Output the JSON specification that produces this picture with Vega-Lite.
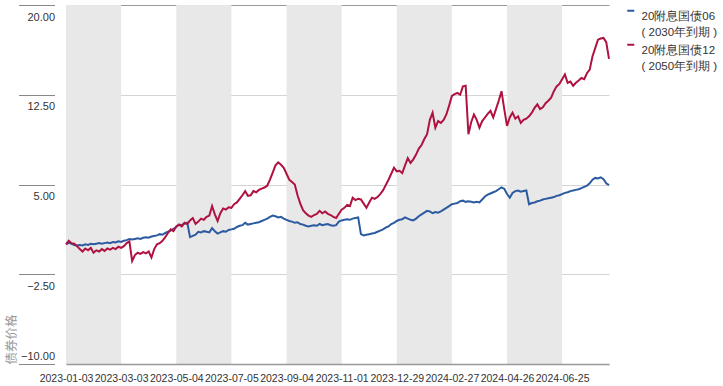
{
"$schema": "https://vega.github.io/schema/vega-lite/v6.json",
"width": 543,
"height": 359,
"padding": {"left": 5, "top": 4, "right": 0, "bottom": 0},
"autosize": {"type": "pad"},
"config": {"view": {"stroke": null}, "font": "Liberation Sans", "style": {"guide-label": {"lineHeight": 16}}},
"layer": [
{
"data": {"values": [
{"start":"2023-01-03","end":"2023-03-03"},
{"start":"2023-05-04","end":"2023-07-05"},
{"start":"2023-09-04","end":"2023-11-01"},
{"start":"2023-12-29","end":"2024-02-27"},
{"start":"2024-04-26","end":"2024-06-25"}
]},
"mark": {"type": "rect", "color": "#e8e8e8"},
"encoding": {
"x": {"field": "start", "type": "ordinal", "scale": {"type": "point", "padding": 0},
"axis": {"title": null, "values": ["2023-01-03","2023-03-03","2023-05-04","2023-07-05","2023-09-04","2023-11-01","2023-12-29","2024-02-27","2024-04-26","2024-06-25"],
"labelAngle": 0, "ticks": false, "grid": false, "domainColor": "#999999", "domainWidth": 1.5, "labelFont": "Liberation Sans", "labelFontSize": 10.5, "labelColor": "#333333", "labelPadding": 9, "labelOverlap": false, "labelBaseline": "top"}},
"x2": {"field": "end"}
}
},
{
"data": {"values": [
{"date":"2023-01-03","20附息国债06":0.00,"20附息国债12":0.00},
{"date":"2023-01-05","20附息国债06":0.15,"20附息国债12":0.30},
{"date":"2023-01-09","20附息国债06":0.05,"20附息国债12":0.10},
{"date":"2023-01-11","20附息国债06":-0.05,"20附息国债12":0.05},
{"date":"2023-01-13","20附息国债06":-0.10,"20附息国债12":-0.15},
{"date":"2023-01-17","20附息国债06":-0.05,"20附息国债12":-0.40},
{"date":"2023-01-19","20附息国债06":-0.10,"20附息国债12":-0.60},
{"date":"2023-01-28","20附息国债06":0.00,"20附息国债12":-0.35},
{"date":"2023-01-30","20附息国债06":-0.05,"20附息国债12":-0.50},
{"date":"2023-02-01","20附息国债06":0.05,"20附息国债12":-0.30},
{"date":"2023-02-03","20附息国债06":0.00,"20附息国债12":-0.70},
{"date":"2023-02-07","20附息国债06":0.05,"20附息国债12":-0.50},
{"date":"2023-02-09","20附息国债06":0.10,"20附息国债12":-0.60},
{"date":"2023-02-13","20附息国债06":0.05,"20附息国债12":-0.40},
{"date":"2023-02-15","20附息国债06":0.10,"20附息国债12":-0.55},
{"date":"2023-02-17","20附息国债06":0.15,"20附息国债12":-0.35},
{"date":"2023-02-21","20附息国债06":0.10,"20附息国债12":-0.45},
{"date":"2023-02-23","20附息国债06":0.20,"20附息国债12":-0.30},
{"date":"2023-02-27","20附息国债06":0.15,"20附息国债12":-0.40},
{"date":"2023-03-01","20附息国债06":0.25,"20附息国债12":-0.20},
{"date":"2023-03-03","20附息国债06":0.20,"20附息国债12":-0.30},
{"date":"2023-03-07","20附息国债06":0.30,"20附息国债12":-0.15},
{"date":"2023-03-09","20附息国债06":0.35,"20附息国债12":0.10},
{"date":"2023-03-13","20附息国债06":0.45,"20附息国债12":0.25},
{"date":"2023-03-15","20附息国债06":0.40,"20附息国债12":-1.40},
{"date":"2023-03-17","20附息国债06":0.45,"20附息国债12":-0.90},
{"date":"2023-03-21","20附息国债06":0.50,"20附息国债12":-0.70},
{"date":"2023-03-23","20附息国债06":0.45,"20附息国债12":-0.80},
{"date":"2023-03-27","20附息国债06":0.55,"20附息国债12":-0.65},
{"date":"2023-03-29","20附息国债06":0.60,"20附息国债12":-0.75},
{"date":"2023-03-31","20附息国债06":0.55,"20附息国债12":-0.60},
{"date":"2023-04-04","20附息国债06":0.65,"20附息国债12":-1.10},
{"date":"2023-04-07","20附息国债06":0.70,"20附息国债12":-0.40},
{"date":"2023-04-11","20附息国债06":0.75,"20附息国债12":0.00},
{"date":"2023-04-13","20附息国债06":0.85,"20附息国债12":0.10},
{"date":"2023-04-17","20附息国债06":0.80,"20附息国债12":0.30},
{"date":"2023-04-19","20附息国债06":0.95,"20附息国债12":0.60},
{"date":"2023-04-21","20附息国债06":1.05,"20附息国债12":0.95},
{"date":"2023-04-24","20附息国债06":1.15,"20附息国债12":1.25},
{"date":"2023-04-26","20附息国债06":1.30,"20附息国债12":1.10},
{"date":"2023-05-04","20附息国债06":1.45,"20附息国债12":1.50},
{"date":"2023-05-06","20附息国债06":1.65,"20附息国债12":1.65},
{"date":"2023-05-09","20附息国债06":1.60,"20附息国债12":1.50},
{"date":"2023-05-11","20附息国债06":1.75,"20附息国债12":1.80},
{"date":"2023-05-15","20附息国债06":1.80,"20附息国债12":1.70},
{"date":"2023-05-17","20附息国债06":0.60,"20附息国债12":2.00},
{"date":"2023-05-19","20附息国债06":0.70,"20附息国债12":2.20},
{"date":"2023-05-23","20附息国债06":0.80,"20附息国债12":1.70},
{"date":"2023-05-25","20附息国债06":1.05,"20附息国债12":1.90},
{"date":"2023-05-29","20附息国债06":1.00,"20附息国债12":2.15},
{"date":"2023-05-31","20附息国债06":1.10,"20附息国债12":2.05},
{"date":"2023-06-06","20附息国债06":1.05,"20附息国债12":2.30},
{"date":"2023-06-08","20附息国债06":1.00,"20附息国债12":2.40},
{"date":"2023-06-12","20附息国债06":1.35,"20附息国债12":3.20},
{"date":"2023-06-14","20附息国债06":1.10,"20附息国债12":2.50},
{"date":"2023-06-16","20附息国债06":0.90,"20附息国债12":1.95},
{"date":"2023-06-20","20附息国债06":1.00,"20附息国债12":2.60},
{"date":"2023-06-26","20附息国债06":1.10,"20附息国债12":3.00},
{"date":"2023-06-28","20附息国债06":1.05,"20附息国债12":2.90},
{"date":"2023-07-03","20附息国债06":1.20,"20附息国债12":3.10},
{"date":"2023-07-05","20附息国债06":1.25,"20附息国债12":3.05},
{"date":"2023-07-07","20附息国债06":1.30,"20附息国债12":3.35},
{"date":"2023-07-11","20附息国债06":1.45,"20附息国债12":3.50},
{"date":"2023-07-13","20附息国债06":1.55,"20附息国债12":3.80},
{"date":"2023-07-17","20附息国债06":1.60,"20附息国债12":4.10},
{"date":"2023-07-19","20附息国债06":1.80,"20附息国债12":4.45},
{"date":"2023-07-25","20附息国债06":1.65,"20附息国债12":4.05},
{"date":"2023-07-27","20附息国债06":1.70,"20附息国债12":4.10},
{"date":"2023-07-31","20附息国债06":1.75,"20附息国债12":4.45},
{"date":"2023-08-02","20附息国债06":1.80,"20附息国债12":4.35},
{"date":"2023-08-08","20附息国债06":1.85,"20附息国债12":4.55},
{"date":"2023-08-10","20附息国债06":1.95,"20附息国债12":4.65},
{"date":"2023-08-14","20附息国债06":2.05,"20附息国债12":4.75},
{"date":"2023-08-16","20附息国债06":2.15,"20附息国债12":4.90},
{"date":"2023-08-18","20附息国债06":2.30,"20附息国债12":5.40},
{"date":"2023-08-22","20附息国债06":2.40,"20附息国债12":6.00},
{"date":"2023-08-24","20附息国债06":2.35,"20附息国债12":6.60},
{"date":"2023-08-28","20附息国债06":2.25,"20附息国债12":6.85},
{"date":"2023-08-30","20附息国债06":2.30,"20附息国债12":6.65},
{"date":"2023-09-01","20附息国债06":2.15,"20附息国债12":6.40},
{"date":"2023-09-04","20附息国债06":2.05,"20附息国债12":5.90},
{"date":"2023-09-06","20附息国债06":1.95,"20附息国债12":5.40},
{"date":"2023-09-08","20附息国债06":1.90,"20附息国债12":5.20},
{"date":"2023-09-12","20附息国债06":1.80,"20附息国债12":5.00},
{"date":"2023-09-14","20附息国债06":1.85,"20附息国债12":4.10},
{"date":"2023-09-18","20附息国债06":1.70,"20附息国债12":3.40},
{"date":"2023-09-20","20附息国债06":1.65,"20附息国债12":2.85},
{"date":"2023-09-22","20附息国债06":1.55,"20附息国债12":2.60},
{"date":"2023-09-26","20附息国债06":1.50,"20附息国债12":2.40},
{"date":"2023-09-28","20附息国债06":1.55,"20附息国债12":2.30},
{"date":"2023-10-07","20附息国债06":1.60,"20附息国债12":2.45},
{"date":"2023-10-09","20附息国债06":1.55,"20附息国债12":2.55},
{"date":"2023-10-11","20附息国债06":1.70,"20附息国债12":2.80},
{"date":"2023-10-13","20附息国债06":1.60,"20附息国债12":2.60},
{"date":"2023-10-17","20附息国债06":1.65,"20附息国债12":2.75},
{"date":"2023-10-19","20附息国债06":1.70,"20附息国债12":2.55},
{"date":"2023-10-23","20附息国债06":1.60,"20附息国债12":2.45},
{"date":"2023-10-25","20附息国债06":1.55,"20附息国债12":2.30},
{"date":"2023-10-27","20附息国债06":1.60,"20附息国债12":2.20},
{"date":"2023-10-31","20附息国债06":1.90,"20附息国债12":2.55},
{"date":"2023-11-01","20附息国债06":2.00,"20附息国债12":2.90},
{"date":"2023-11-03","20附息国债06":2.05,"20附息国债12":3.05},
{"date":"2023-11-07","20附息国债06":2.10,"20附息国债12":3.30},
{"date":"2023-11-09","20附息国债06":2.05,"20附息国债12":3.20},
{"date":"2023-11-13","20附息国债06":2.15,"20附息国债12":3.90},
{"date":"2023-11-15","20附息国债06":2.20,"20附息国债12":3.70},
{"date":"2023-11-17","20附息国债06":2.25,"20附息国债12":3.80},
{"date":"2023-11-21","20附息国债06":0.85,"20附息国债12":3.75},
{"date":"2023-11-23","20附息国债06":0.75,"20附息国债12":3.40},
{"date":"2023-11-27","20附息国债06":0.80,"20附息国债12":3.05},
{"date":"2023-11-29","20附息国债06":0.85,"20附息国债12":3.50},
{"date":"2023-12-05","20附息国债06":0.90,"20附息国债12":3.90},
{"date":"2023-12-07","20附息国债06":0.95,"20附息国债12":3.80},
{"date":"2023-12-11","20附息国债06":1.05,"20附息国债12":3.95},
{"date":"2023-12-13","20附息国债06":1.15,"20附息国债12":4.20},
{"date":"2023-12-15","20附息国债06":1.25,"20附息国债12":4.50},
{"date":"2023-12-19","20附息国债06":1.40,"20附息国债12":4.95},
{"date":"2023-12-21","20附息国债06":1.50,"20附息国债12":5.40},
{"date":"2023-12-25","20附息国债06":1.70,"20附息国债12":5.90},
{"date":"2023-12-27","20附息国债06":1.80,"20附息国债12":6.40},
{"date":"2023-12-29","20附息国债06":1.95,"20附息国债12":6.10},
{"date":"2024-01-03","20附息国债06":2.05,"20附息国债12":6.15},
{"date":"2024-01-05","20附息国债06":2.10,"20附息国债12":5.95},
{"date":"2024-01-09","20附息国债06":2.25,"20附息国债12":6.60},
{"date":"2024-01-11","20附息国债06":2.15,"20附息国债12":7.20},
{"date":"2024-01-15","20附息国债06":2.05,"20附息国债12":6.80},
{"date":"2024-01-17","20附息国债06":2.00,"20附息国债12":7.10},
{"date":"2024-01-19","20附息国债06":2.15,"20附息国债12":7.50},
{"date":"2024-01-23","20附息国债06":2.35,"20附息国债12":8.00},
{"date":"2024-01-25","20附息国债06":2.50,"20附息国债12":8.30},
{"date":"2024-01-29","20附息国债06":2.65,"20附息国债12":8.80},
{"date":"2024-01-31","20附息国债06":2.80,"20附息国债12":9.20},
{"date":"2024-02-02","20附息国债06":2.75,"20附息国债12":10.40},
{"date":"2024-02-04","20附息国债06":2.60,"20附息国债12":11.00},
{"date":"2024-02-06","20附息国债06":2.70,"20附息国债12":9.75},
{"date":"2024-02-08","20附息国债06":2.65,"20附息国债12":10.30},
{"date":"2024-02-19","20附息国债06":2.75,"20附息国债12":10.15},
{"date":"2024-02-21","20附息国债06":2.90,"20附息国债12":10.40},
{"date":"2024-02-23","20附息国债06":3.05,"20附息国债12":10.85},
{"date":"2024-02-25","20附息国债06":3.20,"20附息国债12":11.60},
{"date":"2024-02-27","20附息国债06":3.35,"20附息国债12":12.40},
{"date":"2024-02-29","20附息国债06":3.40,"20附息国债12":12.55},
{"date":"2024-03-06","20附息国债06":3.45,"20附息国债12":12.65},
{"date":"2024-03-08","20附息国债06":3.60,"20附息国债12":12.50},
{"date":"2024-03-12","20附息国债06":3.65,"20附息国债12":13.20},
{"date":"2024-03-14","20附息国债06":3.55,"20附息国债12":13.25},
{"date":"2024-03-18","20附息国债06":3.60,"20附息国债12":9.20},
{"date":"2024-03-20","20附息国债06":3.55,"20附息国债12":10.20},
{"date":"2024-03-22","20附息国债06":3.50,"20附息国债12":10.85},
{"date":"2024-03-26","20附息国债06":3.55,"20附息国债12":10.40},
{"date":"2024-03-28","20附息国债06":3.50,"20附息国债12":9.75},
{"date":"2024-04-01","20附息国债06":3.75,"20附息国债12":10.30},
{"date":"2024-04-03","20附息国债06":4.00,"20附息国债12":10.60},
{"date":"2024-04-08","20附息国债06":4.15,"20附息国债12":10.90},
{"date":"2024-04-10","20附息国债06":4.25,"20附息国债12":11.15},
{"date":"2024-04-12","20附息国债06":4.35,"20附息国债12":10.60},
{"date":"2024-04-16","20附息国债06":4.45,"20附息国债12":11.30},
{"date":"2024-04-18","20附息国债06":4.60,"20附息国债12":12.00},
{"date":"2024-04-22","20附息国债06":4.75,"20附息国债12":12.80},
{"date":"2024-04-24","20附息国债06":4.65,"20附息国债12":11.30},
{"date":"2024-04-26","20附息国债06":4.20,"20附息国债12":9.90},
{"date":"2024-04-28","20附息国债06":3.90,"20附息国债12":10.60},
{"date":"2024-04-30","20附息国债06":4.30,"20附息国债12":11.00},
{"date":"2024-05-07","20附息国债06":4.45,"20附息国债12":10.50},
{"date":"2024-05-09","20附息国债06":4.50,"20附息国债12":10.70},
{"date":"2024-05-11","20附息国债06":4.40,"20附息国债12":10.15},
{"date":"2024-05-14","20附息国债06":4.45,"20附息国债12":10.40},
{"date":"2024-05-16","20附息国债06":4.50,"20附息国债12":10.50},
{"date":"2024-05-20","20附息国债06":3.35,"20附息国债12":10.70},
{"date":"2024-05-22","20附息国债06":3.45,"20附息国债12":11.00},
{"date":"2024-05-24","20附息国债06":3.50,"20附息国债12":11.40},
{"date":"2024-05-28","20附息国债06":3.60,"20附息国债12":11.70},
{"date":"2024-05-30","20附息国债06":3.65,"20附息国债12":11.30},
{"date":"2024-06-03","20附息国债06":3.75,"20附息国债12":11.45},
{"date":"2024-06-05","20附息国债06":3.80,"20附息国债12":11.80},
{"date":"2024-06-07","20附息国债06":3.85,"20附息国债12":12.00},
{"date":"2024-06-12","20附息国债06":3.90,"20附息国债12":12.25},
{"date":"2024-06-14","20附息国债06":3.95,"20附息国债12":12.80},
{"date":"2024-06-18","20附息国债06":4.05,"20附息国债12":13.20},
{"date":"2024-06-20","20附息国债06":4.10,"20附息国债12":13.40},
{"date":"2024-06-25","20附息国债06":4.20,"20附息国债12":13.80},
{"date":"2024-06-27","20附息国债06":4.30,"20附息国债12":14.20},
{"date":"2024-07-01","20附息国债06":4.35,"20附息国债12":13.50},
{"date":"2024-07-03","20附息国债06":4.45,"20附息国债12":13.60},
{"date":"2024-07-05","20附息国债06":4.50,"20附息国债12":13.25},
{"date":"2024-07-09","20附息国债06":4.55,"20附息国债12":13.50},
{"date":"2024-07-11","20附息国债06":4.60,"20附息国债12":13.70},
{"date":"2024-07-15","20附息国债06":4.70,"20附息国债12":13.90},
{"date":"2024-07-17","20附息国债06":4.80,"20附息国债12":13.80},
{"date":"2024-07-19","20附息国债06":4.90,"20附息国债12":14.30},
{"date":"2024-07-23","20附息国债06":5.10,"20附息国债12":14.60},
{"date":"2024-07-25","20附息国债06":5.40,"20附息国债12":15.70},
{"date":"2024-07-29","20附息国债06":5.55,"20附息国债12":16.40},
{"date":"2024-07-31","20附息国债06":5.50,"20附息国债12":17.10},
{"date":"2024-08-02","20附息国债06":5.60,"20附息国债12":17.20},
{"date":"2024-08-06","20附息国债06":5.45,"20附息国债12":17.25},
{"date":"2024-08-08","20附息国债06":5.10,"20附息国债12":16.90},
{"date":"2024-08-12","20附息国债06":4.95,"20附息国债12":15.50}
]},
"transform": [{"fold": ["20附息国债06", "20附息国债12"], "as": ["series", "value"]}],
"mark": {"type": "line", "strokeWidth": 2},
"encoding": {
"x": {"field": "date", "type": "ordinal", "scale": {"type": "point", "padding": 0},
"axis": {"title": null, "values": ["2023-01-03","2023-03-03","2023-05-04","2023-07-05","2023-09-04","2023-11-01","2023-12-29","2024-02-27","2024-04-26","2024-06-25"],
"labelAngle": 0, "ticks": false, "grid": false, "domainColor": "#999999", "domainWidth": 1.5, "labelFont": "Liberation Sans", "labelFontSize": 10.5, "labelColor": "#333333", "labelPadding": 9, "labelOverlap": false, "labelBaseline": "top"}},
"y": {"field": "value", "type": "quantitative", "scale": {"domain": [-10, 20], "nice": false, "zero": false},
"axis": {"title": "债券价格", "values": [-10, -2.5, 5, 12.5, 20], "format": ".2f", "titleAnchor": "start", "titleColor": "#999999", "titleFontWeight": "normal", "titleFontSize": 12.5, "titleFont": "Noto Sans CJK SC", "titlePadding": 0,
"offset": 11.5, "domain": false, "tickSize": 36, "tickColor": "#888888", "labelPadding": -36, "labelAlign": "right",
"labelBaseline": {"condition": {"test": "datum.value === -10", "value": "bottom"}, "value": "top"},
"labelOffset": {"condition": {"test": "datum.value === -10", "value": -3}, "value": 6},
"gridColor": {"condition": {"test": "datum.value === 20", "value": "#999999"}, "value": "#d4d4d4"},
"labelFont": "Liberation Sans", "labelFontSize": 11, "labelColor": "#333333"}},
"color": {"field": "series", "type": "nominal", "scale": {"domain": ["20附息国债06", "20附息国债12"], "range": ["#2c5aa0", "#b01240"]},
"legend": {"title": null, "orient": "right", "offset": 11.5, "padding": 0, "symbolType": "M-1,0L1,0", "symbolStrokeWidth": 2, "symbolSize": 49,
"labelFont": "Liberation Sans", "labelFontSize": 11.5, "labelColor": "#333333", "labelOffset": 5, "labelBaseline": "top", "labelLimit": 200, "rowPadding": 0,
"labelExpr": "[datum.label, datum.label == '20附息国债06' ? '( 2030年到期 )' : '( 2050年到期 )']"}}
}
}
]
}
